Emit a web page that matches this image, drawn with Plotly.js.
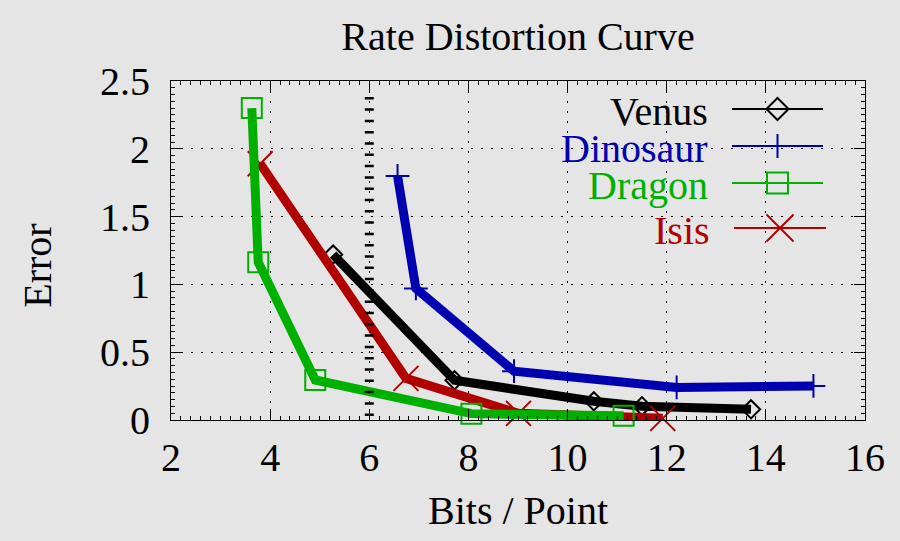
<!DOCTYPE html>
<html>
<head>
<meta charset="utf-8">
<script src="https://cdn.plot.ly/plotly-3.0.1.min.js"></script>
<style>html,body{margin:0;padding:0;background:#e5e5e5;}#chart{width:900px;height:541px;}</style>
</head>
<body>
<div id="chart"></div>
<script>
// ---- data ----
const seriesNames = ['Venus', 'Dinosaur', 'Dragon', 'Isis'];
const venusBits = [5.27, 7.72, 10.53, 11.50, 13.70];
const venusErr  = [1.22, 0.293, 0.138, 0.102, 0.079];
const dinoBits  = [6.57, 6.94, 8.92, 12.20, 14.96];
const dinoErr   = [1.80, 0.97, 0.36, 0.24, 0.251];
const dragonBits = [3.63, 3.76, 4.91, 8.06, 11.13];
const dragonErr  = [2.30, 1.163, 0.295, 0.047, 0.031];
const isisBits = [3.80, 6.74, 9.01, 11.92];
const isisErr  = [1.89, 0.307, 0.049, 0.012];
const xTicks = [2, 4, 6, 8, 10, 12, 14, 16];
const yTicks = [0, 0.5, 1, 1.5, 2, 2.5];
const yTickText = ['0', '0.5', '1', '1.5', '2', '2.5'];
const refLineBits = 6;

const FONT = 'Liberation Serif';
const colors = {Venus: '#000000', Dinosaur: '#0000b0', Dragon: '#00b000', Isis: '#b00000'};
const symbols = {Venus: 'diamond-open', Dinosaur: 'cross-thin-open', Dragon: 'square-open', Isis: 'x-thin-open'};
const plotSizes = {Venus: 14, Dinosaur: 17, Dragon: 20, Isis: 25};
const legendSizes = {Venus: 17, Dinosaur: 17, Dragon: 21, Isis: 27};
const seriesData = {
  Venus: [venusBits, venusErr],
  Dinosaur: [dinoBits, dinoErr],
  Dragon: [dragonBits, dragonErr],
  Isis: [isisBits, isisErr]
};
// drawing order (later = on top)
const drawOrder = ['Venus', 'Dinosaur', 'Isis', 'Dragon'];

const traces = drawOrder.map(n => ({
  type: 'scatter', mode: 'lines+markers', name: n,
  x: seriesData[n][0], y: seriesData[n][1],
  line: {color: colors[n], width: 9},
  marker: {symbol: symbols[n], size: plotSizes[n], color: colors[n], line: {color: colors[n], width: 2}},
  cliponaxis: false, showlegend: false
}));

// custom legend (text left of sample, right-aligned) in pixel-like overlay axis
const legendRowY = {Venus: 109, Dinosaur: 146, Dragon: 183, Isis: 228};
const legendLineX = {Venus: [732, 823], Dinosaur: [732, 823], Dragon: [732, 823], Isis: [734, 826]};
const legendTextX = {Venus: 710, Dinosaur: 710, Dragon: 710, Isis: 712};
seriesNames.forEach(n => {
  const [a, b] = legendLineX[n];
  traces.push({
    type: 'scatter', mode: 'lines', xaxis: 'x2', yaxis: 'y2',
    x: [a, b], y: [legendRowY[n], legendRowY[n]],
    line: {color: colors[n], width: 2}, hoverinfo: 'skip', showlegend: false, cliponaxis: false
  });
  traces.push({
    type: 'scatter', mode: 'markers', xaxis: 'x2', yaxis: 'y2',
    x: [(a + b) / 2], y: [legendRowY[n]],
    marker: {symbol: symbols[n], size: legendSizes[n], color: colors[n], line: {color: colors[n], width: 2}},
    hoverinfo: 'skip', showlegend: false, cliponaxis: false
  });
});

const annotations = seriesNames.map(n => ({
  xref: 'x2', yref: 'y2', x: legendTextX[n], y: legendRowY[n] + 2,
  xanchor: 'right', yanchor: 'middle', showarrow: false, text: n,
  font: {family: FONT, size: 40, color: colors[n]}
}));

const axisCommon = {
  showline: true, linecolor: '#000', linewidth: 1, mirror: 'allticks',
  ticks: 'inside', ticklen: 11, tickcolor: '#000', tickwidth: 1,
  showgrid: true, gridcolor: '#000', gridwidth: 1, griddash: '2px,8px',
  zeroline: false,
  tickfont: {family: FONT, size: 40, color: '#000'}
};

const layout = {
  width: 900, height: 541,
  margin: {l: 171, r: 35, t: 81, b: 121, pad: 0},
  paper_bgcolor: '#e5e5e5', plot_bgcolor: '#e5e5e5',
  font: {family: FONT, color: '#000', size: 40},
  title: {text: 'Rate Distortion Curve', font: {family: FONT, size: 40, color: '#000'},
          x: 0.5, xref: 'paper', xanchor: 'center', yref: 'container', y: 0.933, yanchor: 'middle'},
  xaxis: Object.assign({}, axisCommon, {
    range: [2, 16], tickvals: xTicks, ticktext: xTicks.map(String),
    minor: {dtick: 0.2, ticks: 'inside', ticklen: 4, tickcolor: '#000', showgrid: false},
    ticklabelstandoff: 2,
    title: {text: 'Bits / Point', font: {family: FONT, size: 40}, standoff: 16}
  }),
  yaxis: Object.assign({}, axisCommon, {
    range: [0, 2.5], tickvals: yTicks, ticktext: yTickText,
    minor: {dtick: 0.05, ticks: 'inside', ticklen: 4, tickcolor: '#000', showgrid: false},
    ticklabelstandoff: 12,
    title: {text: 'Error&nbsp;&nbsp;&nbsp;', font: {family: FONT, size: 40}, standoff: 36}
  }),
  xaxis2: {overlaying: 'x', range: [171, 865], visible: false, fixedrange: true},
  yaxis2: {overlaying: 'y', range: [420, 81], visible: false, fixedrange: true},
  shapes: [{
    type: 'line', xref: 'x', yref: 'y', x0: refLineBits, x1: refLineBits, y0: 0.03, y1: 2.43,
    line: {color: '#000', width: 9, dash: '2.5px,8.8px'}, layer: 'above'
  }],
  annotations: annotations,
  showlegend: false
};

Plotly.newPlot('chart', traces, layout, {displayModeBar: false, staticPlot: true});
</script>
</body>
</html>
